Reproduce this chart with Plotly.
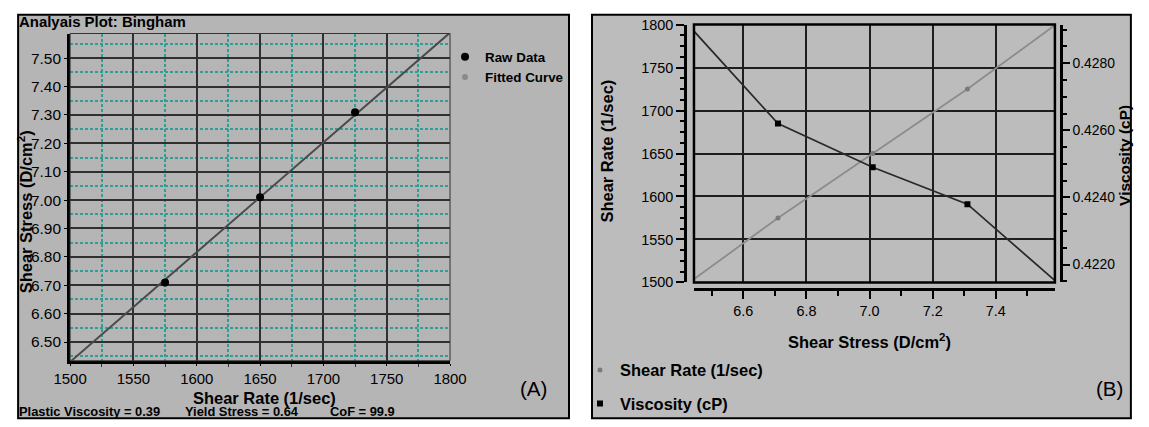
import plotly.graph_objects as go

# ---------------- data ----------------
shear_rate_all = [1500, 1575, 1650, 1725, 1800]          # 1/sec
shear_stress_all = [6.43, 6.71, 7.01, 7.31, 7.59]        # D/cm^2 (fitted line ends + points)
viscosity_all = [0.4291, 0.4262, 0.4249, 0.4238, 0.4215]  # cP

raw_rate = [1575, 1650, 1725]
raw_stress = [6.71, 7.01, 7.31]
raw_visc = [0.4262, 0.4249, 0.4238]

fit_rate = [1500, 1800]
fit_stress = [6.43, 7.59]

stats_text = ["Plastic Viscosity = 0.39", "Yield Stress = 0.64", "CoF = 99.9"]

W, H = 1149, 427
FONT = "Liberation Sans"

# the photographed page comes back slightly reduced and centred; compensate
S = 0.9706
OX = (W - W * S) / 2
OY = (H - H * S) / 2


def px(x):
    return min(1.0, max(0.0, ((x - OX) / S) / W))


def py(y):
    return min(1.0, max(0.0, 1 - ((y - OY) / S) / H))


def fs(v):
    return round(v / S, 2)


fig = go.Figure()

# ---------------- panel A traces ----------------
fig.add_trace(go.Scatter(x=fit_rate, y=fit_stress, mode="lines",
                         line=dict(color="#4a4a4a", width=2),
                         showlegend=False, xaxis="x", yaxis="y", hoverinfo="skip"))
fig.add_trace(go.Scatter(x=raw_rate, y=raw_stress, mode="markers",
                         marker=dict(color="black", size=8, symbol="circle"),
                         name="Raw Data", legend="legend", xaxis="x", yaxis="y"))
fig.add_trace(go.Scatter(x=[None], y=[None], mode="markers",
                         marker=dict(color="#8a8a8a", size=6, symbol="circle"),
                         name="Fitted Curve", legend="legend", xaxis="x", yaxis="y"))

# ---------------- panel B traces ----------------
fig.add_trace(go.Scatter(x=shear_stress_all, y=shear_rate_all, mode="lines",
                         line=dict(color="#8c8c8c", width=1.8),
                         showlegend=False, xaxis="x2", yaxis="y2", hoverinfo="skip"))
fig.add_trace(go.Scatter(x=raw_stress, y=raw_rate, mode="markers",
                         marker=dict(color="#7a7a7a", size=5, symbol="circle"),
                         name="Shear Rate (1/sec)", legend="legend2", legendgroup="a",
                         xaxis="x2", yaxis="y2"))
fig.add_trace(go.Scatter(x=shear_stress_all, y=viscosity_all, mode="lines",
                         line=dict(color="#2a2a2a", width=1.8),
                         showlegend=False, xaxis="x2", yaxis="y3", hoverinfo="skip"))
fig.add_trace(go.Scatter(x=raw_stress, y=raw_visc, mode="markers",
                         marker=dict(color="black", size=6, symbol="square"),
                         name="Viscosity (cP)", legend="legend2", legendgroup="b",
                         xaxis="x2", yaxis="y3"))

shapes = [
    # panel backgrounds
    dict(type="rect", xref="paper", yref="paper", x0=0.001, x1=px(569), y0=0.002, y1=py(13),
         fillcolor="#b5b5b5", line=dict(color="black", width=2), layer="below"),
    dict(type="rect", xref="paper", yref="paper", x0=px(592), x1=0.999, y0=0.002, y1=py(13),
         fillcolor="#bcbcbc", line=dict(color="black", width=2), layer="below"),
    # frames of plot areas
    dict(type="rect", xref="paper", yref="paper", x0=px(70), x1=px(450), y0=py(362), y1=py(32),
         line=dict(color="#333333", width=1), layer="above"),
    dict(type="rect", xref="paper", yref="paper", x0=px(694), x1=px(1055), y0=py(283), y1=py(23),
         line=dict(color="black", width=2.5), layer="above"),
]

ann = []


def A(text, x, y, size, bold=False, xanchor="center", angle=0):
    ann.append(dict(text=("<b>%s</b>" % text) if bold else text, x=px(x), y=py(y),
                    xref="paper", yref="paper", xanchor=xanchor, yanchor="middle",
                    showarrow=False, textangle=angle,
                    font=dict(family=FONT, size=fs(size), color="black")))


A("Analyais Plot: Bingham", 17, 20, 14.5, bold=True, xanchor="left")
A("Shear Stress (D/cm<sup>2</sup>)", 25.2, 212, 16, bold=True, angle=-90)
A("Shear Rate (1/sec)", 264, 400, 16, bold=True)
A(stats_text[0], 17, 413, 12.5, bold=True, xanchor="left")
A(stats_text[1], 183, 413, 12.5, bold=True, xanchor="left")
A(stats_text[2], 328, 413, 12.5, bold=True, xanchor="left")
A("(A)", 533, 390, 20)

A("Shear Rate (1/sec)", 607, 150, 16, bold=True, angle=-90)
A("Viscosity (cP)", 1124.5, 155, 15, bold=True, angle=-90)
A("Shear Stress (D/cm<sup>2</sup>)", 870, 342, 16, bold=True)
A("(B)", 1110, 390, 20)

tickf_A_x = dict(family=FONT, size=fs(14.5), color="black")
tickf_A_y = dict(family=FONT, size=fs(15), color="black")
tickf_B = dict(family=FONT, size=fs(14), color="black")
tickf_B3 = dict(family=FONT, size=fs(13.5), color="black")

fig.update_layout(
    width=W, height=H,
    margin=dict(l=0, r=0, t=0, b=0),
    paper_bgcolor="white", plot_bgcolor="white",
    font=dict(family=FONT, color="black"),
    shapes=shapes, annotations=ann,
    hovermode=False,
    xaxis=dict(domain=[px(70), px(450)], range=[1500, 1800], tick0=1500, dtick=50,
               showgrid=True, gridcolor="#303030", gridwidth=2,
               minor=dict(tick0=1525, dtick=50, showgrid=True, gridcolor="#2f9e97",
                          griddash="3px,2px", gridwidth=2, ticks="outside", ticklen=3,
                          tickcolor="#333"),
               ticks="outside", ticklen=2, tickcolor="black",
               showline=True, linecolor="black", linewidth=3,
               tickfont=tickf_A_x, zeroline=False, anchor="y", fixedrange=True),
    yaxis=dict(domain=[py(362), py(32)], range=[6.434, 7.587], tick0=6.5, dtick=0.1,
               tickformat=".2f",
               showgrid=True, gridcolor="#303030", gridwidth=2,
               minor=dict(tick0=6.45, dtick=0.1, showgrid=True, gridcolor="#2f9e97",
                          griddash="3px,2px", gridwidth=2),
               ticks="outside", ticklen=3, tickcolor="black",
               showline=True, linecolor="black", linewidth=3,
               tickfont=tickf_A_y, zeroline=False, anchor="x", fixedrange=True),
    xaxis2=dict(domain=[px(694), px(1055)], range=[6.444, 7.587], tick0=6.0, dtick=0.2,
                tickformat=".1f",
                showgrid=True, gridcolor="#1e1e1e", gridwidth=2,
                minor=dict(dtick=0.1, ticks="outside", ticklen=5, tickcolor="black",
                           showgrid=False),
                ticks="outside", ticklen=8, tickcolor="black", tickwidth=2,
                showline=True, linecolor="black", linewidth=2.5,
                tickfont=tickf_B, zeroline=False,
                anchor="free", position=py(290), fixedrange=True),
    yaxis2=dict(domain=[py(283), py(23)], range=[1500, 1800], tick0=1500, dtick=50,
                showgrid=True, gridcolor="#1e1e1e", gridwidth=2,
                minor=dict(dtick=12.5, ticks="outside", ticklen=4, tickcolor="black",
                           showgrid=False),
                ticks="outside", ticklen=8, tickcolor="black", tickwidth=2,
                showline=True, linecolor="black", linewidth=2.5,
                tickfont=tickf_B, zeroline=False,
                anchor="free", position=px(685), fixedrange=True),
    yaxis3=dict(domain=[py(283), py(23)], range=[0.42147, 0.42915], tick0=0.422, dtick=0.002,
                tickformat=".4f", overlaying="y2", side="right",
                showgrid=False,
                minor=dict(dtick=0.0005, ticks="outside", ticklen=4, tickcolor="black",
                           showgrid=False),
                ticks="outside", ticklen=7, tickcolor="black", tickwidth=2,
                showline=True, linecolor="black", linewidth=2.5,
                tickfont=tickf_B3, zeroline=False,
                anchor="free", position=px(1061), fixedrange=True),
    legend=dict(x=px(445), y=py(40), xanchor="left", yanchor="top",
                bgcolor="rgba(0,0,0,0)", borderwidth=0,
                font=dict(family=FONT, size=fs(13), color="black", weight="bold"),
                itemwidth=30, tracegroupgap=0),
    legend2=dict(x=px(580), y=py(354), xanchor="left", yanchor="top",
                 bgcolor="rgba(0,0,0,0)", borderwidth=0, traceorder="grouped",
                 font=dict(family=FONT, size=fs(16), color="black", weight="bold"),
                 itemwidth=30, tracegroupgap=9),
)

fig.write_html("out.html",
               config={"displayModeBar": False, "responsive": False},
               post_script=("document.documentElement.style.margin='0';"
                            "document.documentElement.style.overflow='hidden';"
                            "document.body.style.margin='0';"
                            "document.body.style.padding='0';"
                            "document.body.style.overflow='hidden';"))
